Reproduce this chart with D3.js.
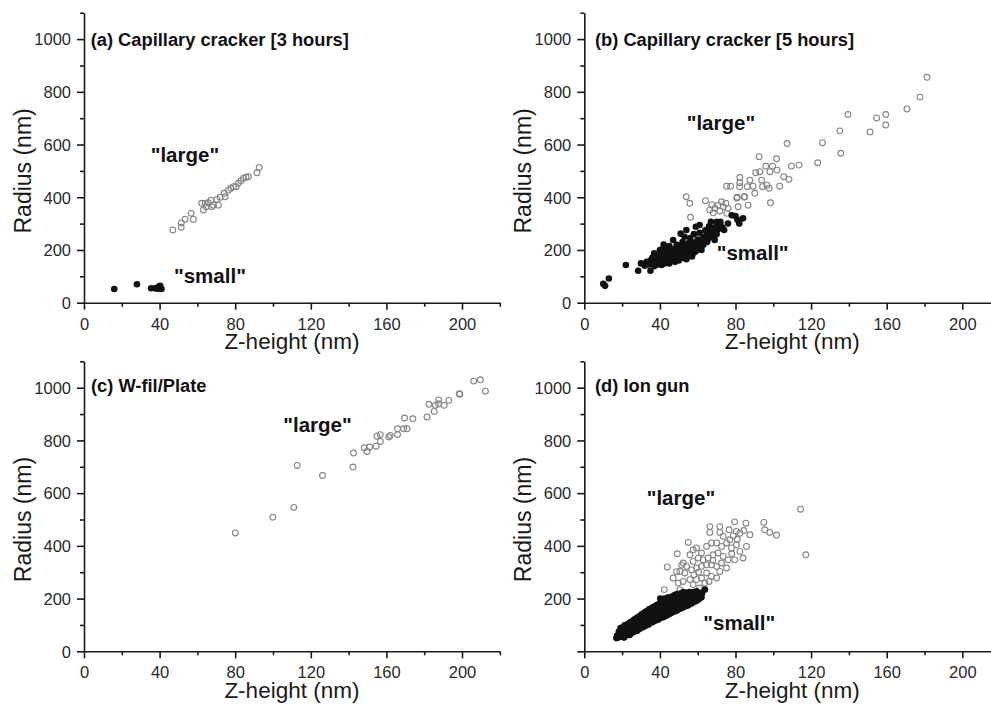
<!DOCTYPE html>
<html><head><meta charset="utf-8">
<script src="https://cdn.jsdelivr.net/npm/d3@7"></script>
<style>html,body{margin:0;padding:0;background:#fff;}svg{display:block;}</style>
</head><body>
<svg id="chart" width="991" height="704"></svg>
<script>
// ---------------- DATA ----------------
const xMajorTicks = [0, 40, 80, 120, 160, 200];
const xMinorTicks = [20, 60, 100, 140, 180, 220];
const yMajorTicks = [0, 200, 400, 600, 800, 1000];
const yMinorTicks = [100, 300, 500, 700, 900, 1100];
const xTitle = "Z-height (nm)";
const yTitle = "Radius (nm)";

// (a) Capillary cracker [3 hours]
const aSmall = [[16,52],[28,70],[35.5,55],[37.5,55],[38.8,53],[39.5,60],[40,55],[40.3,64],[41,52]];
const aLarge = [[47,276],[51.4,286],[51.5,303],[53.5,317],[56.7,339],[57.9,316],[62.3,377],[63.2,352],
  [64.6,364],[65.8,379],[67.1,389],[68.5,370],[70.3,392],[71.1,370],[72,400],[74.2,415],[74.7,402],
  [76.4,427],[77.7,434],[79.1,440],[80.5,440],[81.7,453],[83,463],[84.4,472],[85.8,476],[87,478],
  [91.5,493],[92.7,513],[64.1,377],[67.6,364]];

// (b) Capillary cracker [5 hours]
const bSmall = [[10,72],[11,64],[13,92],[22,143],[28.5,121],[30,149],[32,140],[33,155],[34,145],[35,121],
  [35,160],[36,150],[36,170],[37,138],[37,187],[38,155],[38,175],[39,145],[39,165],[40,150],[40,180],
  [40,200],[41,143],[41,160],[41,190],[42,170],[42,221],[42,210],[43,150],[43,185],[43,200],[44,160],
  [44,175],[44,195],[45,149],[45,168],[45,215],[46,180],[46,200],[46,160],[47,170],[47,190],[47,238],
  [48,155],[48,180],[48,205],[49,165],[49,195],[49,220],[50,175],[50,160],[50,210],[51,185],[51,200],
  [51,262],[52,170],[52,195],[52,230],[53,180],[53,210],[53,250],[54,165],[54,190],[54,276],[55,200],
  [55,225],[55,175],[56,185],[56,215],[56,245],[57,175],[57,200],[57,230],[58,190],[58,260],[58,210],
  [59,220],[59,288],[59,195],[60,205],[60,240],[61,215],[61,265],[61,295],[62,200],[62,230],[63,250],
  [63,220],[64,240],[64,275],[65,230],[65,260],[66,245],[66,290],[67,255],[67,307],[68,270],[69,238],
  [69,285],[70,307],[70,260],[71,280],[72,307],[72,295],[74,276],[78,332],[80,329],[81,315],[84,320],[82,300],
  [38,165],[41,175],[44,185],[47,180],[50,190],[53,195],[56,200],[59,205],[62,215],[65,245],[68,255],
  [45,190],[52,215],[60,225],[63,235],[57,215],[49,180],[66,270],[70,290],[76,300],[73,285]];
const bLarge = [[53.9,402],[55.8,377],[56.2,324],[64.1,387],[68.2,341],[69.1,358],[70.8,370],[71.7,348],
  [73.5,364],[74.9,377],[76.1,358],[72.6,383],[75.3,442],[77.4,442],[80.9,400],[81.4,364],[82.3,475],
  [82.2,455],[82.2,440],[84.9,402],[86.7,370],[86.2,440],[87.6,465],[89.3,442],[90.2,415],[90.7,493],
  [92.9,497],[93.8,465],[94.3,440],[92.5,554],[96,518],[96.7,446],[97.8,434],[98.2,497],[99.6,518],
  [101.7,546],[102,503],[103.4,442],[105.5,478],[108.3,468],[107.3,604],[109.6,518],[113.6,522],
  [98.5,379],[123.5,531],[126,607],[135.7,567],[135.2,652],[139.5,714],[151.2,648],[154.7,701],
  [159.5,714],[159.5,674],[170.7,735],[177.6,780],[181.3,855],[75.4,339],[84.6,401],[80.7,397],
  [66.4,352],[67.5,372]];

// (c) W-fil/Plate
const cLarge = [[80.1,449],[99.9,509],[111,546],[112.8,705],[126.2,667],[142.3,699],[142.6,752],
  [148.3,772],[149.7,758],[151.1,775],[154.6,778],[155,816],[156.8,822],[156.8,796],[161.3,813],
  [162,819],[165.9,822],[165.9,844],[169.1,844],[169.6,885],[170.9,844],[174,882],[181.5,889],
  [182.5,937],[185.3,910],[185.9,933],[187.6,954],[187.6,939],[190.6,933],[193,952],[198.6,977],
  [198.8,975],[206.2,1025],[209.7,1030],[212.4,987]];

// (d) Ion gun
const dSmall = [[17,50],[17.4,60],[18,52],[18.3,75],[19,55],[19.2,88],[20,58],[20.3,70],[20.6,92],
  [21,52],[21.2,80],[21.5,100],[22,60],[22.4,95],[23,65],[23.2,85],[23.5,105],[24,62],[24.3,110],
  [25,70],[25.2,95],[25.5,115],[26,72],[26.4,120],[27,80],[27.2,100],[27.6,125],[28,78],[28.4,130],
  [29,85],[29.3,110],[29.6,135],[30,88],[30.4,140],[31,92],[31.2,115],[31.5,145],[32,95],[32.4,150],
  [33,100],[33.2,125],[33.6,155],[34,102],[34.4,160],[35,108],[35.3,135],[35.5,162],[36,110],[36.4,168],
  [37,115],[37.2,140],[37.6,172],[38,118],[38.4,175],[39,120],[39.3,150],[39.6,180],[40,125],[40.2,200],
  [40.5,185],[41,128],[41.3,155],[41.6,190],[42,130],[42.4,200],[43,135],[43.2,165],[43.5,195],[44,138],
  [44.4,205],[45,142],[45.2,170],[45.6,200],[46,145],[46.4,208],[47,150],[47.3,180],[47.6,212],[48,152],
  [48.4,215],[49,155],[49.2,185],[49.6,218],[50,160],[50.4,210],[51,162],[51.2,190],[51.6,220],[52,165],
  [52.4,225],[53,170],[53.2,200],[53.6,222],[54,172],[54.4,215],[55,175],[55.2,200],[55.6,225],[56,180],
  [56.4,220],[57,182],[57.3,205],[57.6,225],[58,188],[58.4,215],[59,190],[59.4,228],[60,195],[60.3,215],
  [61,200],[61.4,222],[62,205],[62.3,220],[63.8,234],
  [18.6,65],[19.6,72],[20.8,82],[21.8,88],[22.7,78],[23.8,95],[24.7,88],[25.8,105],[26.7,92],[27.8,112],
  [28.7,100],[29.8,122],[30.7,105],[31.8,130],[32.7,118],[33.8,140],[34.7,122],[35.8,150],[36.7,130],
  [37.8,158],[38.7,135],[39.8,165],[40.7,140],[41.8,172],[42.7,150],[43.8,180],[44.7,158],[45.8,188],
  [46.7,165],[47.8,198],[48.7,172],[49.8,200],[50.7,178],[51.8,205],[52.7,185],[53.8,210],[54.7,190],
  [55.8,210],[56.7,195],[57.8,200],[58.7,205],[59.8,208],[60.7,212],[61.6,210]];
const dLarge = [[114.4,539],[117.2,366],[95,489],[95.5,461],[98.1,451],[101.7,441],[79.5,491],[85.5,486],
  [76.6,461],[71.7,473],[66.4,473],[66.4,451],[71.7,451],[80.5,455],[82.3,448],[84.4,458],[87.6,442],
  [73.5,436],[77,423],[78.8,438],[55,413],[49.2,370],[43.9,320],[42.3,234],[52.3,335],[55.9,366],
  [57.6,385],[59.4,392],[62,373],[64.7,398],[67.3,411],[70,411],[72.6,398],[75.3,411],[77.9,392],
  [80.5,404],[82.3,379],[85.8,398],[84,354],[79.6,347],[76.1,347],[73.5,360],[70.8,373],[68.2,366],
  [65.5,354],[62.9,347],[60.3,354],[57.6,341],[54.1,322],[50.6,303],[53.2,297],[56.8,309],[59.4,316],
  [62,322],[64.7,328],[67.3,328],[70,322],[72.6,335],[75.3,316],[64.7,297],[67.3,284],[62,278],
  [59.4,272],[55.9,272],[52.3,265],[49.7,259],[57.6,253],[63.8,259],[70,278],[71.7,303],[47,278],
  [50.6,234],[48.8,302],[51.5,327],[60.5,300],[66,265],[61,240],[58,290],[68,345],[78,370],[81,425]];

// ---------------- LAYOUT ----------------
const panels = [
  {left:84, bottom:302.7, title:"(a) Capillary cracker [3 hours]", tx:90.7, ty:45.7,
   large:aLarge, small:aSmall, lLbl:[150.7,161.7], sLbl:[174,283.3], y0:true},
  {left:584.3, bottom:302.7, title:"(b) Capillary cracker [5 hours]", tx:595, ty:45.7,
   large:bLarge, small:bSmall, lLbl:[686.7,130], sLbl:[716.7,260], y0:true},
  {left:84, bottom:651.3, title:"(c) W-fil/Plate", tx:91, ty:392,
   large:cLarge, small:[], lLbl:[283.3,432], sLbl:null, y0:true},
  {left:584.3, bottom:651.3, title:"(d) Ion gun", tx:595, ty:392,
   large:dLarge, small:dSmall, lLbl:[646.7,504.7], sLbl:[703.3,630.3], y0:false}
];
const FONT = "'Liberation Sans', Arial, Helvetica, sans-serif";
const svg = d3.select("#chart");

panels.forEach(p => {
  const x = d3.scaleLinear().domain([0, 220]).range([p.left, p.left + 220 * 1.89]);
  const y = d3.scaleLinear().domain([0, 1100]).range([p.bottom, p.bottom - 1100 * 0.2636]);
  const g = svg.append("g");

  // x axis
  const gx = g.append("g").attr("transform", `translate(0,${p.bottom})`);
  gx.call(d3.axisBottom(x).tickValues(xMajorTicks).tickSize(7).tickSizeOuter(0).tickFormat(d3.format("d")));
  gx.append("g").call(d3.axisBottom(x).tickValues(xMinorTicks).tickSize(4).tickSizeOuter(0).tickFormat(""))
    .select(".domain").remove();
  gx.selectAll("text").attr("y", 27).attr("dy", 0);

  // y axis
  const gy = g.append("g").attr("transform", `translate(${p.left},0)`);
  gy.call(d3.axisLeft(y).tickValues(yMajorTicks).tickSize(7).tickSizeOuter(0)
    .tickFormat(d => (d === 0 && !p.y0) ? "" : d3.format("d")(d)));
  gy.append("g").call(d3.axisLeft(y).tickValues(yMinorTicks).tickSize(4).tickSizeOuter(0).tickFormat(""))
    .select(".domain").remove();
  gy.selectAll("text").attr("x", -13).attr("dy", "0.35em");

  g.selectAll(".domain, .tick line").attr("stroke", "#1a1a1a").attr("stroke-width", 1.6);
  g.selectAll(".tick text").attr("font-family", FONT).attr("font-size", 16.5).attr("fill", "#2a2a2a");

  // axis titles
  g.append("text").attr("x", x(110)).attr("y", p.bottom + 46.3)
    .attr("text-anchor", "middle").attr("font-family", FONT).attr("font-size", 22.5).attr("fill", "#1a1a1a")
    .text(xTitle);
  g.append("text").attr("transform", `translate(${p.left - 53},${y(500)}) rotate(-90)`)
    .attr("text-anchor", "middle").attr("font-family", FONT).attr("font-size", 23).attr("fill", "#1a1a1a")
    .text(yTitle);

  // points
  g.append("g").selectAll("circle").data(p.large).join("circle")
    .attr("cx", d => x(d[0])).attr("cy", d => y(d[1])).attr("r", 2.9)
    .attr("fill", "none").attr("stroke", "#858585").attr("stroke-width", 1.1);
  g.append("g").selectAll("circle").data(p.small).join("circle")
    .attr("cx", d => x(d[0])).attr("cy", d => y(d[1])).attr("r", 3.3)
    .attr("fill", "#111");

  // texts
  g.append("text").attr("x", p.tx).attr("y", p.ty).attr("font-family", FONT).attr("font-weight", "bold")
    .attr("font-size", 18.3).attr("fill", "#111").text(p.title);
  g.append("text").attr("x", p.lLbl[0]).attr("y", p.lLbl[1]).attr("font-family", FONT).attr("font-weight", "bold")
    .attr("font-size", 20.5).attr("fill", "#111").text('"large"');
  if (p.sLbl) {
    g.append("text").attr("x", p.sLbl[0]).attr("y", p.sLbl[1]).attr("font-family", FONT).attr("font-weight", "bold")
      .attr("font-size", 20.5).attr("fill", "#111").text('"small"');
  }
});
</script>
</body></html>
